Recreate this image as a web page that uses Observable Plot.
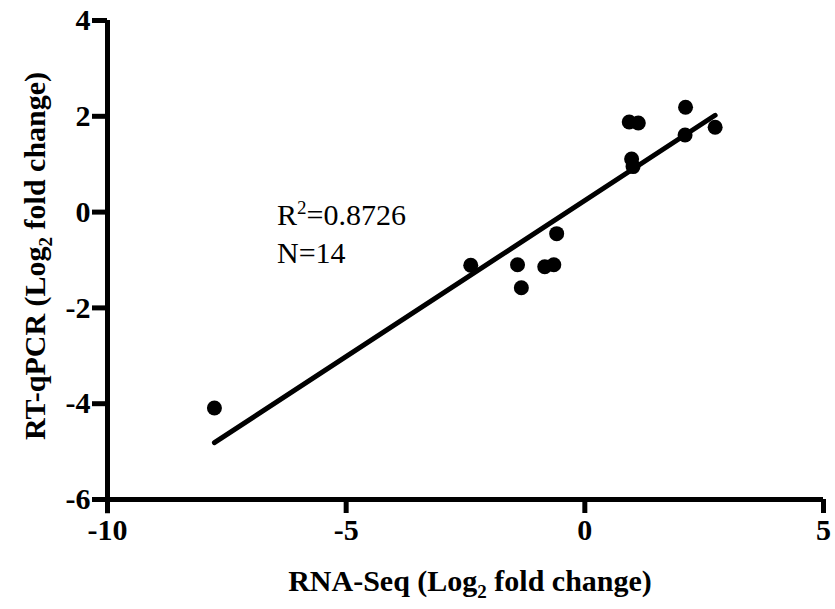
<!DOCTYPE html>
<html>
<head>
<meta charset="utf-8">
<script src="https://cdn.jsdelivr.net/npm/d3@7"></script>
<script src="https://cdn.jsdelivr.net/npm/@observablehq/plot@0.6"></script>
<style>
  html, body { margin: 0; padding: 0; background: #fff; }
  #chart { width: 835px; height: 609px; }
</style>
</head>
<body>
<div id="chart"></div>
<script>
// RNA-Seq log2 fold change (x) vs RT-qPCR log2 fold change (y)
const rnaSeq = [-7.76, -2.39, -1.41, -1.33, -0.84, -0.65, -0.59, 0.93, 1.12, 0.98, 1.01, 2.11, 2.10, 2.73];
const rtqPCR = [-4.09, -1.11, -1.10, -1.58, -1.14, -1.10, -0.45, 1.88, 1.86, 1.11, 0.95, 2.19, 1.61, 1.77];
const xTicks = [-10, -5, 0, 5];
const yTicks = [-6, -4, -2, 0, 2, 4];
const annotation = ["R²=0.8726", "N=14"];

const data = rnaSeq.map((x, i) => ({x, y: rtqPCR[i]}));

const W = 835, H = 609;
const mL = 107, mR = 12, mT = 20, mB = 110;
const font = "'Liberation Serif', 'Times New Roman', serif";

const plot = Plot.plot({
  width: W,
  height: H,
  marginLeft: mL,
  marginRight: mR,
  marginTop: mT,
  marginBottom: mB,
  style: {fontFamily: font, background: "white", overflow: "visible"},
  x: {domain: [-10, 5]},
  y: {domain: [-6, 4]},
  marks: [
    Plot.ruleX([-10], {stroke: "black", strokeWidth: 5, y1: -6.3, y2: 4}),
    Plot.ruleY([-6], {stroke: "black", strokeWidth: 5}),
    Plot.axisX({ticks: xTicks, tickSize: 14, stroke: "black", strokeWidth: 5, tickFormat: () => "", label: null}),
    Plot.axisY({ticks: yTicks, tickSize: 15, stroke: "black", strokeWidth: 5, tickFormat: () => "", label: null}),
    Plot.text(xTicks, {x: d => d, y: -6, dy: 31, text: d => String(d), fontSize: 30, fontWeight: 900, fontFamily: font, fill: "black"}),
    Plot.text(yTicks, {x: -10, y: d => d, dx: -17, text: d => String(d), textAnchor: "end", fontSize: 30, fontWeight: 900, fontFamily: font, fill: "black"}),
    Plot.linearRegressionY(data, {x: "x", y: "y", ci: 0, stroke: "black", strokeWidth: 5}),
    Plot.dot(data, {x: "x", y: "y", r: 7.5, fill: "black", stroke: "none"})
  ]
});

document.getElementById("chart").appendChild(plot);

const svg = d3.select(plot);

// X axis title
const xt = svg.append("text")
  .attr("x", 470).attr("y", 591)
  .attr("text-anchor", "middle")
  .style("font-family", font).style("font-size", "30px").style("font-weight", "bold").attr("fill", "black");
xt.append("tspan").text("RNA-Seq (Log");
xt.append("tspan").style("font-size", "19px").attr("dy", 7).text("2");
xt.append("tspan").attr("dy", -7).text(" fold change)");

// Y axis title
const yt = svg.append("text")
  .attr("transform", "translate(45,256) rotate(-90)")
  .attr("text-anchor", "middle")
  .style("font-family", font).style("font-size", "30px").style("font-weight", "bold").attr("fill", "black");
yt.append("tspan").text("RT-qPCR (Log");
yt.append("tspan").style("font-size", "19px").attr("dy", 7).text("2");
yt.append("tspan").attr("dy", -7).text(" fold change)");

// Annotation
const a1 = svg.append("text")
  .attr("x", 277).attr("y", 225)
  .attr("text-anchor", "start")
  .style("font-family", font).style("font-size", "30px").style("font-weight", "normal").attr("fill", "black");
a1.append("tspan").text("R");
a1.append("tspan").style("font-size", "19px").attr("dy", -11).text("2");
a1.append("tspan").attr("dy", 11).text("=0.8726");
svg.append("text")
  .attr("x", 277).attr("y", 263)
  .attr("text-anchor", "start")
  .style("font-family", font).style("font-size", "30px").style("font-weight", "normal").attr("fill", "black")
  .text(annotation[1]);
</script>
</body>
</html>
